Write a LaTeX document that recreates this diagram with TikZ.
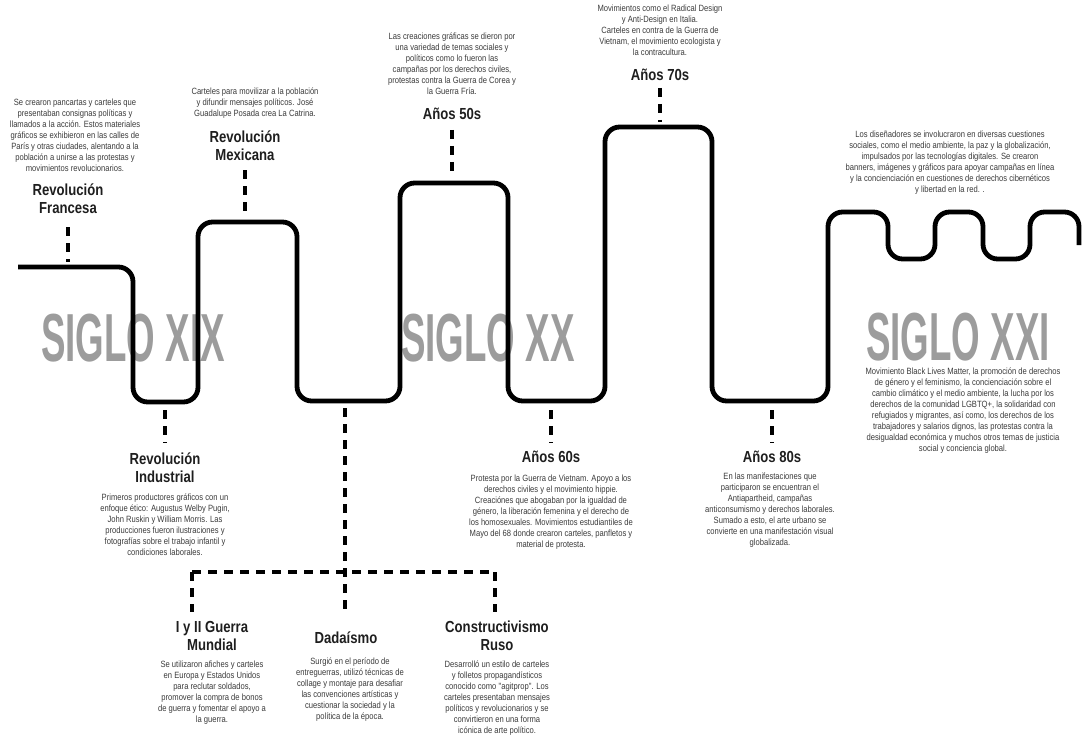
\documentclass[tikz,border=0pt]{standalone}
\usepackage{fontspec}
\setmainfont{Liberation Sans}
\newfontfamily\bodyfam[FakeStretch=0.84]{Liberation Sans}
\newfontfamily\titlefam[FakeStretch=0.82]{Liberation Sans Bold}
\newfontfamily\bigfam[FakeStretch=0.54]{Liberation Sans Bold}
\definecolor{bodygray}{HTML}{3A3A3A}
\definecolor{titleblack}{HTML}{1E1E1E}
\definecolor{siglogray}{HTML}{9C9C9C}
\begin{document}
\begin{tikzpicture}[x=0.75pt,y=-0.75pt,
  para/.style={inner sep=0pt,align=center,text=bodygray,font=\bodyfam\fontsize{6.8}{8.25}\selectfont},
  ttl/.style={inner sep=0pt,align=center,text=titleblack,font=\titlefam\fontsize{12}{13.5}\selectfont},
  siglo/.style={inner sep=0pt,text=siglogray,font=\bigfam\fontsize{51}{51}\selectfont},
  timeline/.style={line width=3.6pt,rounded corners=11pt,black},
  dashline/.style={line width=3.6pt,dash pattern=on 6.5pt off 5.5pt,black}]
\useasboundingbox (0,0) rectangle (1084,738);
\begin{scope}
\clip (0,0) rectangle (1084,738);
% big labels
\node[siglo] (s19) at (133,338) {SIGLO XIX};
\node[siglo] (s20) at (488,338) {SIGLO XX};
\node[siglo] (s21) at (958,337) {SIGLO XXI};
% timeline
\draw[timeline] (18,267) -- (133,267) -- (133,402) -- (198,402) -- (198,222) -- (297,222) -- (297,401) -- (400,401) -- (400,183) -- (508,183) -- (508,401) -- (605,401) -- (605,127) -- (712,127) -- (712,401) -- (828,401) -- (828,212) -- (888,212) -- (888,259) -- (935,259) -- (935,212) -- (983,212) -- (983,259) -- (1030,259) -- (1030,212) -- (1079,212) -- (1079,245);
\end{scope}
% coordinates on the timeline and near labels
\coordinate (tF) at (68,262);
\coordinate (lF) at (68,227);
\coordinate (tM) at (245,217);
\coordinate (lM) at (245,170);
\coordinate (t50) at (452,178);
\coordinate (l50) at (452,130);
\coordinate (t70) at (660,122);
\coordinate (l70) at (660,88);
\coordinate (tI) at (165,410);
\coordinate (lI) at (165,443);
\coordinate (t60) at (551,410);
\coordinate (l60) at (551,443);
\coordinate (t80) at (772,410);
\coordinate (l80) at (772,443);
\coordinate (tD) at (345,408);
\coordinate (jD) at (345,572);
\coordinate (lD) at (345,614);
\coordinate (jG) at (192,572);
\coordinate (lG) at (192,612);
\coordinate (jC) at (495,572);
\coordinate (lC) at (495,612);
% top texts
\node[para] (pF) at (75,135) {Se crearon pancartas y carteles que\\presentaban consignas políticas y\\llamados a la acción. Estos materiales\\gráficos se exhibieron en las calles de\\París y otras ciudades, alentando a la\\población a unirse a las protestas y\\movimientos revolucionarios.};
\node[ttl] (nF) at (68,199) {Revolución\\Francesa};
\node[para] (pM) at (255,103) {Carteles para movilizar a la población\\y difundir mensajes políticos. José\\Guadalupe Posada crea La Catrina.};
\node[ttl] (nM) at (245,146) {Revolución\\Mexicana};
\node[para] (p50) at (452,63.5) {Las creaciones gráficas se dieron por\\una variedad de temas sociales y\\políticos como lo fueron las\\campañas por los derechos civiles,\\protestas contra la Guerra de Corea y\\la Guerra Fría.};
\node[ttl] (n50) at (452,114) {Años 50s};
\node[para] (p70) at (660,30) {Movimientos como el Radical Design\\y Anti-Design en Italia.\\Carteles en contra de la Guerra de\\Vietnam, el movimiento ecologista y\\la contracultura.};
\node[ttl] (n70) at (660,75) {Años 70s};
\node[para] (p21a) at (950,163) {Los diseñadores se involucraron en diversas cuestiones\\sociales, como el medio ambiente, la paz y la globalización,\\impulsados por las tecnologías digitales. Se crearon\\banners, imágenes y gráficos para apoyar campañas en línea\\y la concienciación en cuestiones de derechos cibernéticos\\y libertad en la red. .};
% bottom texts
\node[ttl] (nI) at (165,468) {Revolución\\Industrial};
\node[para] (pI) at (165,524.5) {Primeros productores gráficos con un\\enfoque ético: Augustus Welby Pugin,\\John Ruskin y William Morris. Las\\producciones fueron ilustraciones y\\fotografías sobre el trabajo infantil y\\condiciones laborales.};
\node[ttl] (n60) at (551,457) {Años 60s};
\node[para] (p60) at (551,512) {Protesta por la Guerra de Vietnam. Apoyo a los\\derechos civiles y el movimiento hippie.\\Creaciónes que abogaban por la igualdad de\\género, la liberación femenina y el derecho de\\los homosexuales. Movimientos estudiantiles de\\Mayo del 68 donde crearon carteles, panfletos y\\material de protesta.};
\node[ttl] (n80) at (772,457) {Años 80s};
\node[para] (p80) at (770,510) {En las manifestaciones que\\participaron se encuentran el\\Antiapartheid, campañas\\anticonsumismo y derechos laborales.\\Sumado a esto, el arte urbano se\\convierte en una manifestación visual\\globalizada.};
\node[para] (p21b) at (963,411) {Movimiento Black Lives Matter, la promoción de derechos\\de género y el feminismo, la concienciación sobre el\\cambio climático y el medio ambiente, la lucha por los\\derechos de la comunidad LGBTQ+, la solidaridad con\\refugiados y migrantes, así como, los derechos de los\\trabajadores y salarios dignos, las protestas contra la\\desigualdad económica y muchos otros temas de justicia\\social y conciencia global.};
\node[ttl] (nG) at (212,636) {I y II Guerra\\Mundial};
\node[para] (pG) at (212,692.5) {Se utilizaron afiches y carteles\\en Europa y Estados Unidos\\para reclutar soldados,\\promover la compra de bonos\\de guerra y fomentar el apoyo a\\la guerra.};
\node[ttl] (nD) at (346,638) {Dadaísmo};
\node[para] (pD) at (350,689.5) {Surgió en el período de\\entreguerras, utilizó técnicas de\\collage y montaje para desafiar\\las convenciones artísticas y\\cuestionar la sociedad y la\\política de la época.};
\node[ttl] (nC) at (497,636) {Constructivismo\\Ruso};
\node[para] (pC) at (497,698) {Desarrolló un estilo de carteles\\y folletos propagandísticos\\conocido como "agitprop". Los\\carteles presentaban mensajes\\políticos y revolucionarios y se\\convirtieron en una forma\\icónica de arte político.};
% dashed connectors
\draw[dashline] (lF) -- (tF);
\draw[dashline] (lM) -- (tM);
\draw[dashline] (l50) -- (t50);
\draw[dashline] (l70) -- (t70);
\draw[dashline] (tI) -- (lI);
\draw[dashline] (t60) -- (l60);
\draw[dashline] (t80) -- (l80);
\draw[dashline] (tD) -- (lD);
\draw[dashline] (jG) -- (jC);
\draw[dashline] (jG) -- (lG);
\draw[dashline] (jC) -- (lC);
\end{tikzpicture}
\end{document}
